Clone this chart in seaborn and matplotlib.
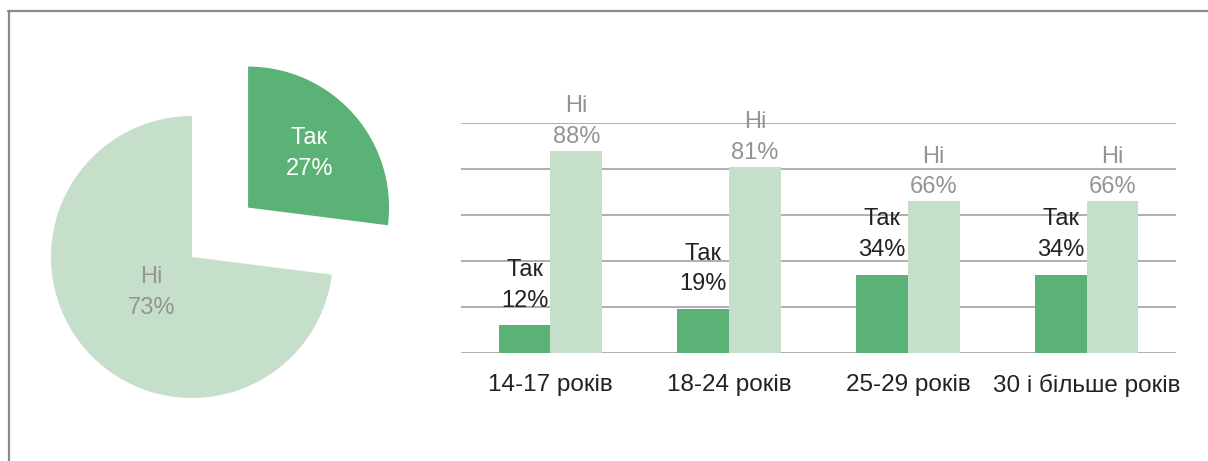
import numpy as np
import pandas as pd
import matplotlib
matplotlib.use('Agg')
import matplotlib.pyplot as plt
import seaborn as sns
from matplotlib.lines import Line2D

# overall answer
pie_labels = ['Так', 'Ні']
pie_values = [27, 73]

# by age group
age_groups = ['14-17 років', '18-24 років', '25-29 років', '30 і більше років']
yes_values = [12, 19, 34, 34]
no_values = [88, 81, 66, 66]

DARK = '#5bb276'
LIGHT = '#c5dfca'
GRID = '#a8a8a8'
FRAME = '#8a8a8a'
GRAYTXT = '#949494'

W, H = 1208, 461
sns.set_theme(style='white')
plt.rcParams['font.family'] = ['Liberation Sans', 'DejaVu Sans']

fig = plt.figure(figsize=(W / 100, H / 100), dpi=100)

# frame (top + left)
fig.add_artist(Line2D([8 / W, 1], [1 - 11 / H, 1 - 11 / H], color=FRAME, lw=1.6, transform=fig.transFigure))
fig.add_artist(Line2D([8.5 / W, 8.5 / W], [0, 1 - 11 / H], color=FRAME, lw=1.6, transform=fig.transFigure))

# ---- pie ----
R = 141.0
cx, cy = 192, 257
xl, yl = (-1.3, 1.5), (-1.2, 1.5)
ax_pie = fig.add_axes([(cx + xl[0] * R) / W, (H - cy + yl[0] * R) / H,
                       (xl[1] - xl[0]) * R / W, (yl[1] - yl[0]) * R / H])
wedges, _ = ax_pie.pie(pie_values, colors=[DARK, LIGHT], startangle=90, counterclock=False,
                       explode=[0.53, 0], wedgeprops={'linewidth': 0})
ax_pie.set_xlim(*xl)
ax_pie.set_ylim(*yl)
ax_pie.set_aspect('auto')
ax_pie.axis('off')
dists = [0.58, 0.38]
tcolors = ['white', GRAYTXT]
for wdg, lab, val, d, tc in zip(wedges, pie_labels, pie_values, dists, tcolors):
    ang = np.deg2rad((wdg.theta1 + wdg.theta2) / 2)
    x0, y0 = wdg.center
    ax_pie.text(x0 + d * np.cos(ang), y0 + d * np.sin(ang), f'{lab}\n{val}%',
                ha='center', va='center', color=tc, fontsize=17, linespacing=1.5)

# ---- bars ----
df = pd.DataFrame({
    'group': age_groups * 2,
    'answer': ['Так'] * len(age_groups) + ['Ні'] * len(age_groups),
    'value': yes_values + no_values,
})
ax = fig.add_axes([461 / W, (H - 353) / H, 715 / W, 230 / H])
sns.barplot(data=df, x='group', y='value', hue='answer', palette=[DARK, LIGHT],
            width=0.58, dodge=True, ax=ax, legend=False, saturation=1, linewidth=0)
ax.set_xlim(-0.5, len(age_groups) - 0.5)
ax.set_ylim(0, 100)
ax.set_yticks([0, 20, 40, 60, 80, 100])
ax.yaxis.grid(True, color=GRID, lw=1.3)
ax.set_axisbelow(True)
ax.set_yticklabels([])
ax.tick_params(axis='y', length=0)
ax.tick_params(axis='x', length=0, labelsize=17.5, pad=15, colors='#222222')
ax.set_xlabel('')
ax.set_ylabel('')
for s in ax.spines.values():
    s.set_visible(False)

offsets = {'Так': 10, 'Ні': 2}
txtcol = {'Так': '#222222', 'Ні': GRAYTXT}
for cont, name in zip(ax.containers, ['Так', 'Ні']):
    for bar in cont:
        v = bar.get_height()
        ax.annotate(f'{name}\n{v:.0f}%', (bar.get_x() + bar.get_width() / 2, v),
                    xytext=(0, offsets[name]), textcoords='offset points',
                    ha='center', va='bottom', fontsize=17, color=txtcol[name],
                    linespacing=1.5, annotation_clip=False)

fig.savefig('out.png', dpi=100)
